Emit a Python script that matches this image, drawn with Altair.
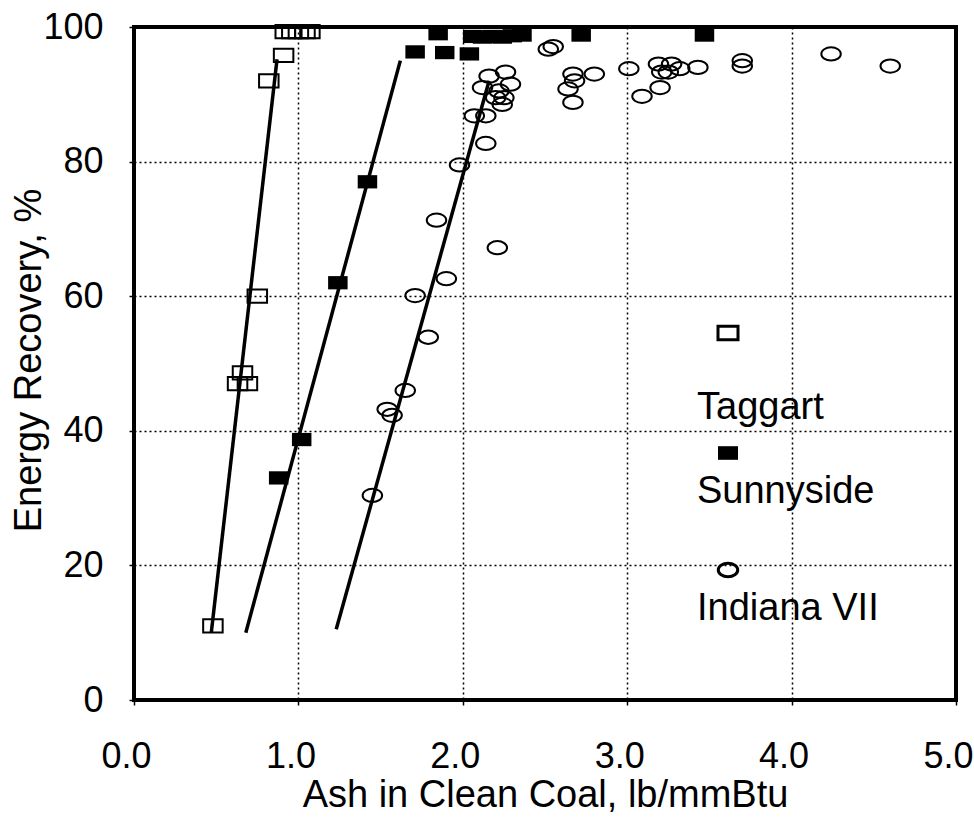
import altair as alt
import pandas as pd

series = ["Taggart", "Sunnyside", "Indiana VII"]

taggart_x = [0.48, 0.63, 0.69, 0.66, 0.75, 0.82, 0.91, 0.92, 0.96, 1.00, 1.04, 1.07]
taggart_y = [11.0, 47.0, 47.0, 48.6, 60.0, 92.0, 95.8, 99.3, 99.3, 99.3, 99.3, 99.3]

sunny_x = [0.88, 1.02, 1.24, 1.42, 1.71, 1.85, 1.89, 2.04, 2.06, 2.12, 2.18, 2.24,
           2.30, 2.36, 2.72, 3.47]
sunny_y = [33.0, 38.7, 62.0, 77.0, 96.3, 99.0, 96.2, 96.0, 98.6, 98.5, 98.6, 98.5,
           98.7, 98.8, 98.8, 98.8]

indiana_x = [1.45, 1.54, 1.57, 1.65, 1.79, 1.71, 1.90, 1.84, 2.21, 1.98, 2.14, 2.07,
             2.14, 2.12, 2.16, 2.26, 2.29, 2.22, 2.25, 2.24, 2.20, 2.52, 2.55, 2.67,
             2.68, 2.64, 2.67, 2.80, 3.01, 3.09, 3.20, 3.19, 3.27, 3.21, 3.25, 3.32,
             3.43, 3.70, 3.70, 4.24, 4.60]
indiana_y = [30.4, 43.2, 42.3, 46.0, 53.9, 60.1, 62.6, 71.3, 67.2, 79.5, 82.7, 86.8,
             86.8, 91.0, 92.7, 93.3, 91.5, 90.5, 89.5, 88.5, 89.5, 96.7, 97.1, 93.0,
             92.0, 90.8, 88.8, 93.0, 93.8, 89.7, 91.0, 94.5, 94.5, 93.3, 93.3, 93.8,
             94.0, 95.0, 94.2, 96.0, 94.2]

# fitted lines (end points)
fit_taggart_x = [0.47, 0.87]
fit_taggart_y = [10.0, 95.2]
fit_sunny_x = [0.68, 1.62]
fit_sunny_y = [10.0, 95.0]
fit_indiana_x = [1.23, 2.16]
fit_indiana_y = [10.5, 92.0]

x_ticks = [0, 1, 2, 3, 4, 5]
y_ticks = [0, 20, 40, 60, 80, 100]

FONT = "Liberation Sans"
RECT = "M-1,-0.68L1,-0.68L1,0.68L-1,0.68Z"
ELL = "M-1,0A1,0.68 0 1,0 1,0A1,0.68 0 1,0 -1,0Z"

def pts(xs, ys, name):
    return pd.DataFrame({"ash": xs, "rec": ys, "series": name})

pts_t = pts(taggart_x, taggart_y, series[0])
pts_s = pts(sunny_x, sunny_y, series[1])
pts_i = pts(indiana_x, indiana_y, series[2])
lines = pd.concat([
    pts(fit_taggart_x, fit_taggart_y, series[0]),
    pts(fit_sunny_x, fit_sunny_y, series[1]),
    pts(fit_indiana_x, fit_indiana_y, series[2]),
])

xs = alt.Scale(domain=[0, 5], nice=False, zero=False)
ys = alt.Scale(domain=[0, 100], nice=False, zero=False)

x_axis = alt.Axis(values=x_ticks, format=".1f", title="Ash in Clean Coal, lb/mmBtu",
                  grid=True, gridDash=[2, 3], gridColor="black", gridWidth=1.5, gridOpacity=1,
                  domain=False, tickSize=5, tickColor="black", tickWidth=1.5,
                  labelFont=FONT, labelFontSize=36, labelColor="black", labelPadding=34,
                  labelOffset=-8, labelFlush=False, labelOverlap=False,
                  titleFont=FONT, titleFontSize=38, titleFontWeight="normal", titleColor="black",
                  titleBaseline="alphabetic", titleY=106)
y_axis = alt.Axis(values=y_ticks, format="d", title="Energy Recovery, %",
                  grid=True, gridDash=[2, 3], gridColor="black", gridWidth=1.5, gridOpacity=1,
                  domain=False, tickSize=5, tickColor="black", tickWidth=1.5,
                  labelFont=FONT, labelFontSize=36, labelColor="black", labelPadding=26,
                  labelFlush=False, labelOverlap=False,
                  titleFont=FONT, titleFontSize=38, titleFontWeight="normal", titleColor="black",
                  titleBaseline="alphabetic", titleX=-94, titleY=333, titleAngle=-90)

base_line = alt.Chart(lines).mark_line(color="black", strokeWidth=3.5).encode(
    x=alt.X("ash:Q", scale=xs, axis=x_axis),
    y=alt.Y("rec:Q", scale=ys, axis=y_axis),
    detail="series:N",
)

def point_layer(df, shape, filled, size=380):
    return alt.Chart(df).mark_point(shape=shape, filled=filled, size=size, color="black",
                                    strokeWidth=2, opacity=1, fillOpacity=1).encode(
        x=alt.X("ash:Q", scale=xs), y=alt.Y("rec:Q", scale=ys))

layer_t = point_layer(pts_t, RECT, False)
layer_s = point_layer(pts_s, RECT, True)
layer_i = point_layer(pts_i, ELL, False)

# legend (symbol above label, inside the plot)
def leg_sym(shape, filled, px, py, size):
    return alt.Chart(pd.DataFrame({"k": [0]})).mark_point(
        shape=shape, filled=filled, size=size, color="black", strokeWidth=3, opacity=1,
        fillOpacity=1).encode(x=alt.value(px), y=alt.value(py))

def leg_txt(name, px, py):
    return alt.Chart(pd.DataFrame({"label": [name]})).mark_text(
        font=FONT, fontSize=38, color="black", align="left", baseline="alphabetic").encode(
        x=alt.value(px), y=alt.value(py), text="label:N")

legend = [
    leg_sym(RECT, False, 594, 306, 400), leg_txt(series[0], 563, 392),
    leg_sym(RECT, True, 594, 426, 400), leg_txt(series[1], 563, 476),
    leg_sym(ELL, False, 594, 543, 380), leg_txt(series[2], 563, 593),
]

chart = alt.layer(base_line, layer_t, layer_s, layer_i, *legend).properties(
    width=822, height=673,
    autosize=alt.AutoSizeParams(type="none"),
    padding={"left": 134, "top": 27, "right": 18, "bottom": 123},
).configure(background="white",
            view=alt.ViewConfig(stroke="black", strokeWidth=4))

chart.save("out.html", embed_options={"renderer": "svg", "actions": False})
